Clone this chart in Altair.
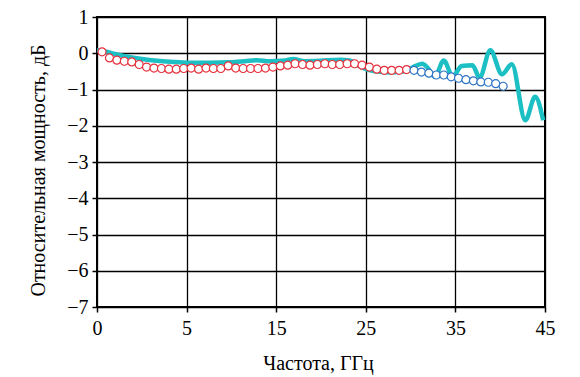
import json
import altair as alt
import pandas as pd

# ---- data (x in equal-spaced axis units: one labelled tick interval = 10 units) ----
x_tick_values = [0, 10, 20, 30, 40, 50]
x_tick_labels = ["0", "5", "15", "25", "35", "45"]
y_tick_values = [-7, -6, -5, -4, -3, -2, -1, 0, 1]
y_tick_labels = ["−7", "−6", "−5", "−4", "−3", "−2", "−1", "0", "1"]

# measured curve (cyan)
line_x = [0.0, 0.89, 2.01, 3.13, 4.8, 6.7, 8.7, 10.38, 12.6, 14.84, 16.5, 17.86,
          19.3, 21.0, 21.9, 23.2, 24.9, 27.1, 28.2, 29.6, 31.0, 32.7, 34.4, 35.3,
          36.3, 36.9, 37.7, 38.7, 39.7, 40.7, 41.9, 42.7, 43.9, 45.2, 46.3, 47.8,
          48.9, 49.8]
line_y = [0.08, 0.05, -0.02, -0.08, -0.15, -0.21, -0.24, -0.26, -0.26, -0.25, -0.22, -0.19,
          -0.22, -0.20, -0.16, -0.22, -0.21, -0.18, -0.20, -0.40, -0.50, -0.53, -0.50, -0.38,
          -0.29, -0.40, -0.65, -0.20, -0.64, -0.35, -0.33, -0.67, 0.08, -0.58, -0.30, -1.85,
          -1.20, -1.85]

# red circles
red_x = [0.56, 1.39, 2.22, 3.05, 3.88, 4.71, 5.53, 6.36, 7.19, 8.02, 8.85, 9.68,
         10.51, 11.34, 12.17, 12.99, 13.82, 14.65, 15.48, 16.31, 17.14, 17.97, 18.80,
         19.63, 20.46, 21.29, 22.11, 22.94, 23.77, 24.60, 25.43, 26.26, 27.09, 27.92,
         28.75, 29.58, 30.40, 31.23, 32.06, 32.89, 33.72, 34.55]
red_y = [0.04, -0.13, -0.19, -0.22, -0.24, -0.31, -0.38, -0.41, -0.42, -0.44, -0.44, -0.42,
         -0.41, -0.44, -0.41, -0.42, -0.42, -0.35, -0.41, -0.42, -0.42, -0.42, -0.41,
         -0.38, -0.35, -0.33, -0.29, -0.31, -0.33, -0.31, -0.29, -0.31, -0.31, -0.29,
         -0.29, -0.33, -0.38, -0.44, -0.47, -0.47, -0.47, -0.45]

# blue circles
blue_x = [35.38, 36.21, 37.04, 37.87, 38.70, 39.53, 40.35, 41.18, 42.01, 42.84, 43.67,
          44.50, 45.33]
blue_y = [-0.47, -0.52, -0.55, -0.60, -0.60, -0.65, -0.69, -0.73, -0.76, -0.79, -0.80,
          -0.84, -0.91]

FONT = "Liberation Serif, DejaVu Serif, serif"

line_df = pd.DataFrame({"x": line_x, "y": line_y, "s": "line"})
red_df = pd.DataFrame({"x": red_x, "y": red_y, "s": "red"})
blue_df = pd.DataFrame({"x": blue_x, "y": blue_y, "s": "blue"})

x_label_expr = json.dumps(x_tick_labels, ensure_ascii=False) + "[round(datum.value/10)]"
y_label_expr = json.dumps(y_tick_labels, ensure_ascii=False) + "[round(datum.value+7)]"

x_enc = alt.X(
    "x:Q",
    scale=alt.Scale(domain=[0, 50], nice=False, zero=False),
    axis=alt.Axis(
        values=x_tick_values, labelExpr=x_label_expr, title="Частота, ГГц",
        labelOverlap=False, tickCount=6,
        titleX=221, titleY=62, titleBaseline="alphabetic", titleAlign="center",
        labelPadding=6,
    ),
)
y_enc = alt.Y(
    "y:Q",
    scale=alt.Scale(domain=[-7, 1], nice=False, zero=False),
    axis=alt.Axis(
        values=y_tick_values, labelExpr=y_label_expr, title="Относительная мощность, дБ",
        labelOverlap=False, tickCount=9,
        titleAngle=270, titleX=-53, titleY=153, titleBaseline="alphabetic",
        titleAlign="center", labelPadding=4,
    ),
)

base = alt.Chart().encode(x=x_enc, y=y_enc)

line = base.mark_line(
    color="#1BBFC4", strokeWidth=4.5, interpolate="monotone"
).transform_filter(alt.datum.s == "line")

red = base.mark_point(
    shape="circle", filled=True, fill="white", stroke="#E5303C", strokeWidth=1.2,
    size=64, opacity=1, fillOpacity=1, strokeOpacity=1
).transform_filter(alt.datum.s == "red")

blue = base.mark_point(
    shape="circle", filled=True, fill="white", stroke="#2F74C4", strokeWidth=1.2,
    size=64, opacity=1, fillOpacity=1, strokeOpacity=1
).transform_filter(alt.datum.s == "blue")

all_df = pd.concat([line_df, red_df, blue_df], ignore_index=True)

chart = alt.layer(line, red, blue, data=all_df).properties(
    width=448, height=290,
    padding={"left": 97, "top": 17, "right": 35, "bottom": 70},
    autosize=alt.AutoSizeParams(type="none"),
    background="white",
).configure_view(
    stroke="black", strokeWidth=2
).configure_axis(
    grid=True, gridColor="black", gridWidth=1.3, gridOpacity=1,
    domain=False, ticks=True, tickSize=5, tickColor="black", tickWidth=1.5,
    labelFont=FONT, labelFontSize=20, labelColor="black", labelFlush=False,
    titleFont=FONT, titleFontSize=20, titleFontWeight="normal", titleColor="black",
)

chart.save("out.html", embed_options={"renderer": "svg", "actions": False})
